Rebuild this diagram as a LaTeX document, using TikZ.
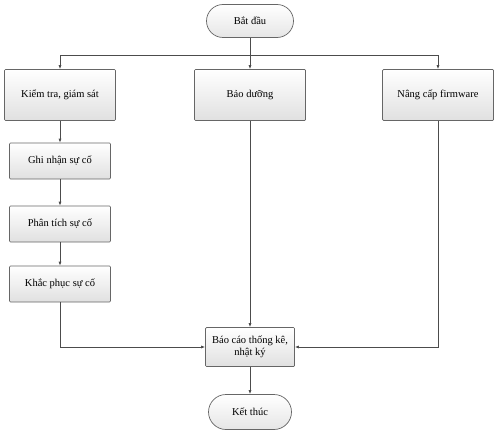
\documentclass[tikz,border=0pt]{standalone}
\usepackage{fontspec}
\setmainfont{Liberation Serif}
\usetikzlibrary{arrows.meta,shapes.misc}
\begin{document}
\begin{tikzpicture}[x=1pt,y=-1pt,
  box/.style={draw=black!60,line width=0.7pt,rectangle,rounded corners=1pt,top color=white,bottom color=black!12,font=\fontsize{10.5}{12.5}\selectfont,align=center,inner sep=0pt},
  term/.style={draw=black!60,line width=0.7pt,rounded rectangle,top color=white,bottom color=black!10,font=\fontsize{10.5}{12.5}\selectfont,inner sep=0pt},
  conn/.style={draw=black!70,line width=0.7pt,-{Latex[length=4pt,width=3pt]}},
  line/.style={draw=black!70,line width=0.7pt}]
\useasboundingbox (0,0) rectangle (500,433);
\node[term,minimum width=87pt,minimum height=33pt] (start) at (250,21) {Bắt đầu};
\node[box,minimum width=111pt,minimum height=51pt] (kt) at (60,95) {Kiểm tra, giám sát};
\node[box,minimum width=111pt,minimum height=51pt] (bd) at (250,95) {Bảo dưỡng};
\node[box,minimum width=111pt,minimum height=51pt] (fw) at (438,95) {Nâng cấp firmware};
\node[box,minimum width=101pt,minimum height=36pt] (gn) at (60,161) {Ghi nhận sự cố};
\node[box,minimum width=101pt,minimum height=36pt] (pt) at (60,224) {Phân tích sự cố};
\node[box,minimum width=101pt,minimum height=36pt] (kp) at (60,284) {Khắc phục sự cố};
\node[box,minimum width=89pt,minimum height=39pt] (bc) at (250,347) {Báo cáo thống kê,\\nhật ký};
\node[term,minimum width=83pt,minimum height=35pt] (end) at (250,412) {Kết thúc};
\coordinate (split) at (250,55);
\draw[line] (start) -- (split);
\draw[conn] (split) -| (kt);
\draw[conn] (split) -- (bd);
\draw[conn] (split) -| (fw);
\draw[conn] (kt) -- (gn);
\draw[conn] (gn) -- (pt);
\draw[conn] (pt) -- (kp);
\draw[conn] (kp) |- (bc);
\draw[conn] (bd) -- (bc);
\draw[conn] (fw) |- (bc);
\draw[conn] (bc) -- (end);
\end{tikzpicture}
\end{document}
